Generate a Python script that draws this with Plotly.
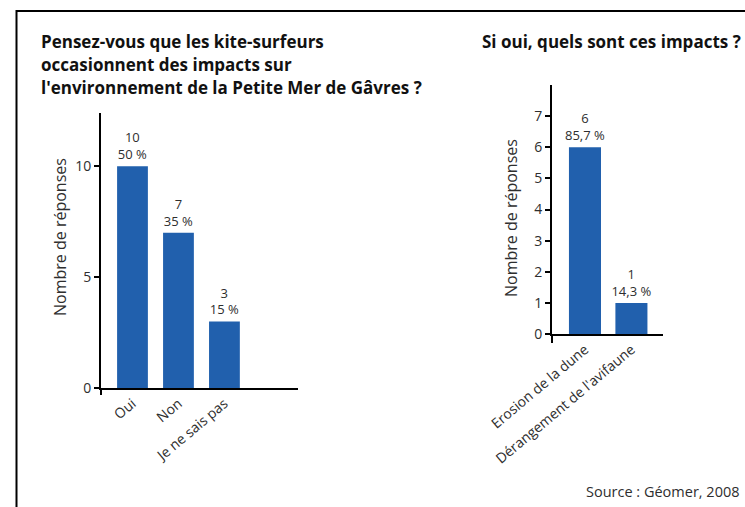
import plotly.graph_objects as go

# Question 1: do kite-surfers have an impact?
q1_categories = ["Oui", "Non", "Je ne sais pas"]
q1_counts = [10, 7, 3]

# Question 2: which impacts?
q2_categories = ["Erosion de la dune", "Dérangement de l'avifaune"]
q2_counts = [6, 1]

left_ticks = [0, 5, 10]
right_ticks = [0, 1, 2, 3, 4, 5, 6, 7]

title_lines = [
    "Pensez-vous que les kite-surfeurs",
    "occasionnent des impacts sur",
    "l'environnement de la Petite Mer de Gâvres ?",
]
right_title = "Si oui, quels sont ces impacts ?"
source_text = "Source : Géomer, 2008"
axis_title = "Nombre de réponses"

W, H = 745, 507
BAR_COLOR = "#2160ad"
FONT = "Open Sans"
TEXT_COLOR = "#2e2e2e"


def pct_labels(counts, decimals):
    total = sum(counts)
    out = []
    for c in counts:
        p = 100.0 * c / total
        s = f"{p:.{decimals}f}".replace(".", ",")
        out.append(f"{c}<br>{s} %")
    return out


fig = go.Figure()

fig.add_trace(go.Bar(
    x=list(range(len(q1_categories))), y=q1_counts,
    width=0.67, marker=dict(color=BAR_COLOR, line=dict(width=0)),
    text=pct_labels(q1_counts, 0), textposition="outside", constraintext="none",
    textfont=dict(family=FONT, size=13, color=TEXT_COLOR),
    cliponaxis=False, xaxis="x", yaxis="y", showlegend=False,
))

fig.add_trace(go.Bar(
    x=list(range(len(q2_categories))), y=q2_counts,
    width=0.69, marker=dict(color=BAR_COLOR, line=dict(width=0)),
    text=pct_labels(q2_counts, 1), textposition="outside", constraintext="none",
    textfont=dict(family=FONT, size=13, color=TEXT_COLOR),
    cliponaxis=False, xaxis="x2", yaxis="y2", showlegend=False,
))


def px_x(v):
    return v / W


def px_y(v):
    return 1 - v / H


axis_common = dict(
    showline=True, linecolor="black", linewidth=2,
    ticks="outside", ticklen=5, tickwidth=1.5, tickcolor="black",
    showgrid=False, zeroline=False, automargin=False,
    tickfont=dict(family=FONT, size=14, color=TEXT_COLOR),
)
x_axis_common = {**axis_common, "ticks": "", "tickangle": -40,
                 "tickfont": dict(family=FONT, size=14, color=TEXT_COLOR)}

fig.update_layout(
    width=W, height=H, autosize=False,
    margin=dict(l=0, r=0, t=0, b=0, autoexpand=False),
    paper_bgcolor="white", plot_bgcolor="white",
    font=dict(family=FONT, color=TEXT_COLOR),
    xaxis=dict(
        domain=[px_x(101), px_x(298)], anchor="y",
        range=[-0.685, 3.6],
        tickmode="array", tickvals=list(range(len(q1_categories))),
        ticktext=q1_categories, **x_axis_common,
    ),
    yaxis=dict(
        domain=[px_y(388), px_y(113)], anchor="x",
        range=[0, 12.4], tickmode="array", tickvals=left_ticks,
        **axis_common,
    ),
    xaxis2=dict(
        domain=[px_x(552), px_x(663)], anchor="y2",
        range=[-0.71, 1.68],
        tickmode="array", tickvals=list(range(len(q2_categories))),
        ticktext=q2_categories, **x_axis_common,
    ),
    yaxis2=dict(
        domain=[px_y(334), px_y(85)], anchor="x2",
        range=[0, 8.0], tickmode="array", tickvals=right_ticks,
        **axis_common,
    ),
)

annotations = []
for i, line in enumerate(title_lines):
    annotations.append(dict(
        text=f"<b>{line}</b>", xref="paper", yref="paper",
        x=px_x(39), y=px_y(42 + 22.5 * i), xanchor="left", yanchor="middle",
        showarrow=False, font=dict(family=FONT, size=17, color="#111111"),
    ))
annotations.append(dict(
    text=f"<b>{right_title}</b>", xref="paper", yref="paper",
    x=px_x(480), y=px_y(42), xanchor="left", yanchor="middle",
    showarrow=False, font=dict(family=FONT, size=17, color="#111111"),
))
# Vertical axis titles
for cx, cy in [(60, 237), (511, 218)]:
    annotations.append(dict(
        text=axis_title, xref="paper", yref="paper",
        x=px_x(cx), y=px_y(cy), xanchor="center", yanchor="middle",
        textangle=-90, showarrow=False,
        font=dict(family=FONT, size=16, color=TEXT_COLOR),
    ))
annotations.append(dict(
    text=source_text, xref="paper", yref="paper",
    x=px_x(742), y=px_y(491), xanchor="right", yanchor="middle",
    showarrow=False, font=dict(family=FONT, size=14.5, color=TEXT_COLOR),
))
fig.update_layout(annotations=annotations)

# Vertical axis lines run a little past the horizontal axis
for xd, yd, drop in [("x domain", "y domain", 7 / 275), ("x2 domain", "y2 domain", 9 / 249)]:
    fig.add_shape(
        type="line", xref=xd, yref=yd, x0=0, x1=0, y0=-drop, y1=0,
        line=dict(color="black", width=2),
    )

# Frame around the figure (runs off the right and bottom edges)
fig.add_shape(
    type="rect", xref="paper", yref="paper",
    x0=px_x(16.5), x1=px_x(760), y0=px_y(520), y1=px_y(11),
    line=dict(color="black", width=2), fillcolor="rgba(0,0,0,0)",
)

fig.write_html("out.html")
